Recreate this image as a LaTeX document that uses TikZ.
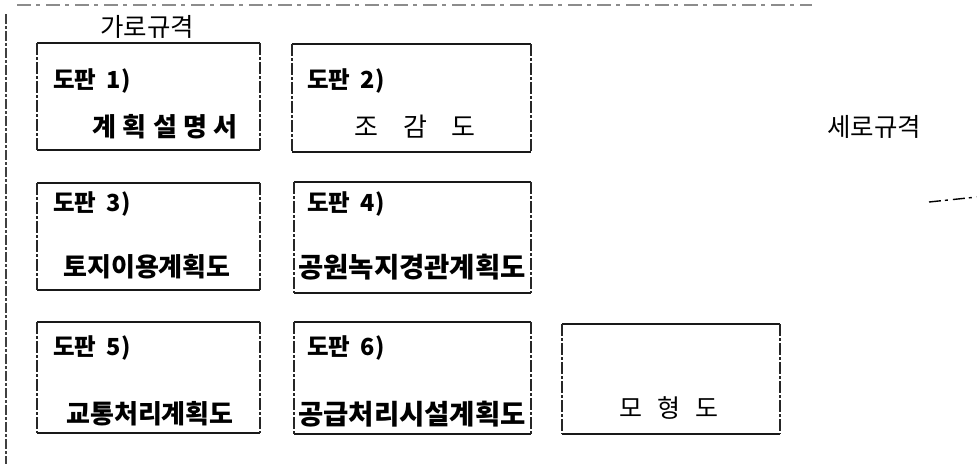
\documentclass[tikz,border=0pt]{standalone}
\usepackage{fontspec}
\newfontfamily\kr{Noto Sans CJK KR}
\begin{document}
\begin{tikzpicture}[x=1pt,y=-1pt,
  every node/.style={inner sep=0pt,outer sep=0pt},
  panel/.style={draw=none,rectangle},
  hedge/.style={line width=1.6pt,black!90},
  vedge/.style={line width=1.3pt,black!85,dash pattern=on 12pt off 2pt on 3pt off 2pt},
  frametop/.style={line width=1.2pt,black!45,dash pattern=on 14pt off 5pt on 4pt off 6pt},
  frameleft/.style={line width=1.5pt,black!75,dash pattern=on 10pt off 2pt on 3pt off 2pt},
  tag/.style={font=\kr\bfseries\fontsize{23.5}{23.5}\selectfont,anchor=west},
  main/.style={font=\kr\bfseries\fontsize{26}{26}\selectfont},
  plain/.style={font=\kr\fontsize{26}{26}\selectfont},
  head/.style={font=\kr\fontsize{25.5}{25.5}\selectfont}]
\useasboundingbox (0,0) rectangle (977,464);
% outer frame
\coordinate (ft1) at (17,5); \coordinate (ft2) at (812,5);
\coordinate (fl1) at (6,14); \coordinate (fl2) at (6,464);
\draw[frametop] (ft1) -- (ft2);
\draw[frameleft] (fl1) -- (fl2);
% panels
\node[panel,minimum width=223pt,minimum height=107pt] (b1) at (148.5,96.5) {};
\node[panel,minimum width=239pt,minimum height=108pt] (b2) at (411.5,98) {};
\node[panel,minimum width=223pt,minimum height=107pt] (b3) at (148.5,236.5) {};
\node[panel,minimum width=237pt,minimum height=111pt] (b4) at (412.5,237.5) {};
\node[panel,minimum width=223pt,minimum height=111pt] (b5) at (148.5,377.5) {};
\node[panel,minimum width=237pt,minimum height=112pt] (b6) at (412.5,378) {};
\node[panel,minimum width=218pt,minimum height=110pt] (b7) at (671,379) {};
\foreach \b in {b1,b2,b3,b4,b5,b6,b7}{
  \draw[hedge] (\b.north west) -- (\b.north east);
  \draw[hedge] (\b.south west) -- (\b.south east);
  \draw[vedge] (\b.north west) -- (\b.south west);
  \draw[vedge] (\b.north east) -- (\b.south east);
}
% labels
\node[head] (h1) at (147,27) {가로규격};
\node[head] (h2) at (874,127) {세로규격};
\node[tag] (t1) at (53,81) {도판\hspace{0.45em}1)};
\node[main] (m1) at (165,127) {계\hspace{0.25em}획\hspace{0.25em}설\hspace{0.25em}명\hspace{0.25em}서};
\node[tag] (t2) at (307,81) {도판\hspace{0.45em}2)};
\node[plain] (m2) at (415,127) {조\hspace{0.95em}감\hspace{0.95em}도};
\node[tag] (t3) at (53,204) {도판\hspace{0.45em}3)};
\node[main] (m3) at (147,267) {토지이용계획도};
\node[tag] (t4) at (307,204) {도판\hspace{0.45em}4)};
\node[main,font=\kr\bfseries\fontsize{27.5}{27.5}\selectfont] (m4) at (412,267) {공원녹지경관계획도};
\node[tag] (t5) at (53,348) {도판\hspace{0.45em}5)};
\node[main] (m5) at (150,414) {교통처리계획도};
\node[tag] (t6) at (307,348) {도판\hspace{0.45em}6)};
\node[main,font=\kr\bfseries\fontsize{27.5}{27.5}\selectfont] (m6) at (412,414) {공급처리시설계획도};
\node[plain,font=\kr\fontsize{25}{25}\selectfont] (m7) at (669,408) {모\hspace{0.6em}형\hspace{0.6em}도};
% stray mark
\coordinate (s1) at (929,202); \coordinate (s2) at (977,197);
\draw[line width=1.4pt,dash pattern=on 12pt off 4pt on 3pt off 5pt] (s1) -- (s2);
\end{tikzpicture}
\end{document}
